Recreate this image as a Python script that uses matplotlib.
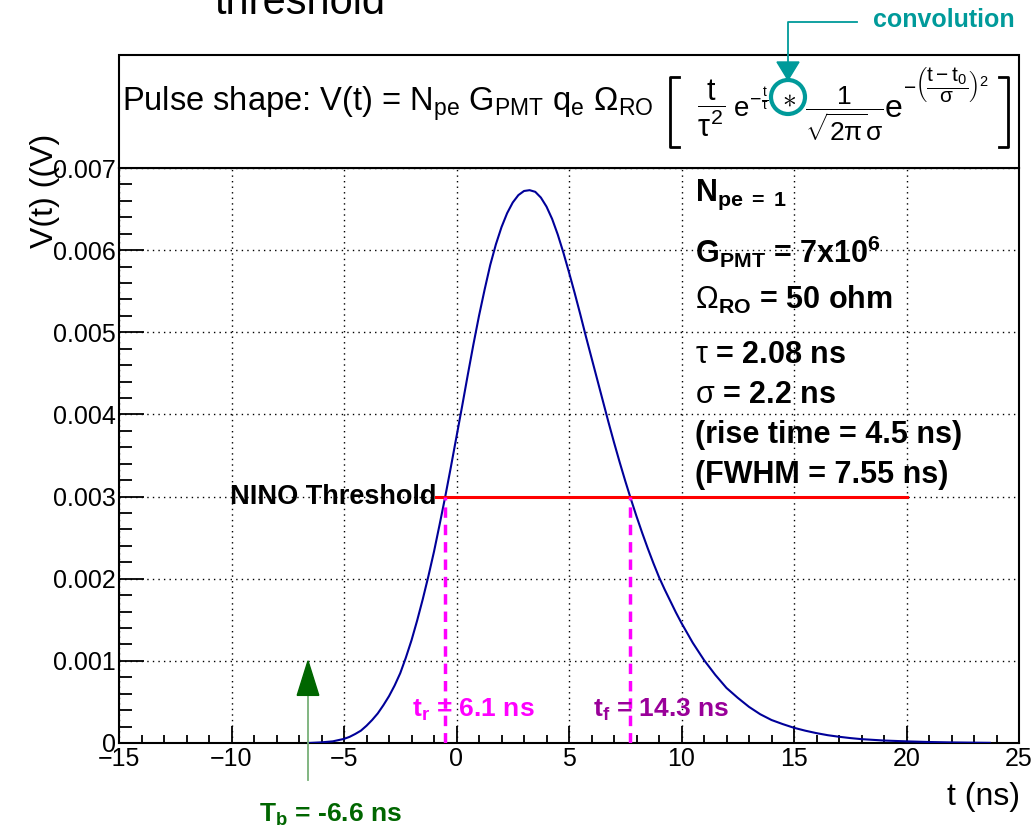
import matplotlib
matplotlib.use("Agg")
import matplotlib.pyplot as plt
from matplotlib.patches import Rectangle, Ellipse, Polygon
from matplotlib.lines import Line2D

plt.rcParams['font.family'] = ['Liberation Sans', 'DejaVu Sans']
plt.rcParams['mathtext.fontset'] = 'custom'
plt.rcParams['mathtext.rm'] = 'Liberation Sans'
plt.rcParams['mathtext.it'] = 'Liberation Sans'
plt.rcParams['mathtext.bf'] = 'Liberation Sans:bold'

# pulse (t in ns, V in mV)
t_ns = [-6.6, -6.0, -5.5, -5.0, -4.75, -4.5, -4.25, -4.0, -3.75, -3.5, -3.25, -3.0,
        -2.75, -2.5, -2.25, -2.0, -1.75, -1.5, -1.25, -1.0, -0.75, -0.5, -0.25,
        0.0, 0.25, 0.5, 0.75, 1.0, 1.25, 1.5, 1.75, 2.0, 2.25, 2.5, 2.75, 3.0,
        3.25, 3.5, 3.75, 4.0, 4.25, 4.5, 4.75, 5.0, 5.25, 5.5, 5.75, 6.0, 6.25,
        6.5, 6.75, 7.0, 7.25, 7.5, 7.75, 8.0, 8.25, 8.5, 8.75, 9.0, 9.25, 9.5,
        9.75, 10.0, 10.5, 11.0, 11.5, 12.0, 12.5, 13.0, 13.5, 14.0, 14.5, 15.0,
        15.5, 16.0, 16.5, 17.0, 17.5, 18.0, 19.0, 20.0, 21.0, 22.0, 23.0, 23.7]
v_mv = [0.0, 0.008, 0.02, 0.05, 0.075, 0.11, 0.15, 0.21, 0.28, 0.36, 0.46, 0.57,
        0.70, 0.85, 1.04, 1.25, 1.49, 1.75, 2.03, 2.33, 2.66, 3.00, 3.36,
        3.73, 4.10, 4.48, 4.85, 5.20, 5.52, 5.82, 6.07, 6.28, 6.45, 6.58, 6.67, 6.72,
        6.73, 6.71, 6.64, 6.53, 6.38, 6.19, 5.97, 5.73, 5.48, 5.22, 4.95, 4.69, 4.43,
        4.17, 3.91, 3.66, 3.42, 3.19, 2.97, 2.76, 2.56, 2.37, 2.19, 2.02, 1.87, 1.73,
        1.59, 1.46, 1.22, 1.01, 0.83, 0.67, 0.55, 0.44, 0.35, 0.28, 0.23, 0.185,
        0.15, 0.12, 0.095, 0.076, 0.06, 0.047, 0.03, 0.02, 0.012, 0.007, 0.004, 0.002]
v_volt = [v / 1000 for v in v_mv]

threshold = 0.003
thr_start, thr_end = -0.9, 20.0
t_rise, t_fall = -0.5, 7.7
t_b = -6.6
xticks = [-15, -10, -5, 0, 5, 10, 15, 20, 25]
yticks = [0, 0.001, 0.002, 0.003, 0.004, 0.005, 0.006, 0.007]
ytick_labels = ['0', '0.001', '0.002', '0.003', '0.004', '0.005', '0.006', '0.007']

W, H = 1034, 831
fig = plt.figure(figsize=(W / 100, H / 100), dpi=100)
ax = fig.add_axes([119 / W, 1 - 743 / H, 900 / W, 575 / H])

def fx(px):
    return px / W

def fy(py):
    return 1 - py / H

ax.plot(t_ns, v_volt, color='#000099', lw=1.5, zorder=3)
ax.plot([thr_start, thr_end], [threshold, threshold], color='#ff0000', lw=2.2, zorder=3)
for tt in (t_rise, t_fall):
    ax.plot([tt, tt], [0, threshold], color='#ff00ff', lw=2.5, ls=(0, (3, 2)), zorder=4)

ax.set_xlim(-15, 25)
ax.set_ylim(0, 0.007)
ax.set_xticks(xticks)
ax.set_yticks(yticks)
ax.set_yticklabels(ytick_labels)
ax.set_xticks(range(-15, 26), minor=True)
ax.set_yticks([i * 0.0002 for i in range(36)], minor=True)
ax.tick_params(axis='both', which='both', direction='in', labelsize=18, width=1.3)
ax.tick_params(axis='x', which='major', length=12, pad=3)
ax.tick_params(axis='x', which='minor', length=6)
ax.tick_params(axis='y', which='major', length=18, pad=2)
ax.tick_params(axis='y', which='minor', length=9.5)
ax.grid(True, which='major', color='black', ls=(0, (1, 3)), lw=1.0)
for s in ax.spines.values():
    s.set_linewidth(1.5)

# labels inside the plot
ax.text(thr_start, threshold, 'NINO Threshold', ha='right', va='center',
        fontsize=19.5, fontweight='bold', zorder=5)
ax.text(-2.0, 0.0004, r'$\mathbf{t_{r}}$ = 6.1 ns', ha='left', va='center',
        fontsize=19, fontweight='bold', color='#ff00ff', zorder=5)
ax.text(6.05, 0.0004, r'$\mathbf{t_{f}}$ = 14.3 ns', ha='left', va='center',
        fontsize=19, fontweight='bold', color='#990099', zorder=5)

# T_b arrow below the axis
ax.plot([t_b, t_b], [-0.00045, 0.0006], color='#77b077', lw=1.3, clip_on=False, zorder=5)
ax.add_patch(Polygon([[t_b - 0.48, 0.00058], [t_b + 0.48, 0.00058], [t_b, 0.001]],
                     closed=True, color='#006600', clip_on=False, zorder=5))
ax.text(-5.6, -0.00088, r'$\mathbf{T_{b}}$ = -6.6 ns', ha='center', va='center',
        fontsize=19, fontweight='bold', color='#006600', clip_on=False)

# parameter block
params = [
    (195, r'$\mathbf{N_{pe\ =\ 1}}$'),
    (252, r'$\mathbf{G_{PMT}}$ = 7x10$^{\mathbf{6}}$'),
    (300, r'$\Omega_{\mathbf{RO}}$ = 50 ohm'),
    (355, r'$\tau$ = 2.08 ns'),
    (395, r'$\sigma$ = 2.2 ns'),
    (435, '(rise time = 4.5 ns)'),
    (475, '(FWHM = 7.55 ns)'),
]
for py, txt in params:
    fig.text(fx(695), fy(py), txt, ha='left', va='center', fontsize=22, fontweight='bold')

# formula box above the axes
fig.add_artist(Rectangle((fx(119), fy(168)), 900 / W, 113 / H, transform=fig.transFigure,
                         facecolor='white', edgecolor='black', lw=1.5))
fig.text(fx(122), fy(111),
         r'Pulse shape: V(t) = N$_{\rm pe}$ G$_{\rm PMT}$ q$_{\rm e}$ $\Omega_{\rm RO}$',
         ha='left', va='baseline', fontsize=23.5)
fig.text(fx(711), fy(108), r'$\dfrac{t}{\tau^{2}}$', ha='center', va='center', fontsize=22)
fig.text(fx(733), fy(117), r'$e^{-\frac{t}{\tau}}$', ha='left', va='baseline', fontsize=20)
fig.text(fx(789), fy(99), r'$\ast$', ha='center', va='center', fontsize=20)
fig.text(fx(844), fy(114), r'$\dfrac{1}{\sqrt{2\pi}\sigma}$', ha='center', va='center', fontsize=19)
fig.text(fx(885), fy(117), 'e', ha='left', va='baseline', fontsize=23)
fig.text(fx(903), fy(84), r'$-\left(\dfrac{t-t_{0}}{\sigma}\right)^{2}$', ha='left',
         va='center', fontsize=15)
for x0, x1 in ((679, 670), (999, 1008)):
    fig.add_artist(Line2D([fx(x0), fx(x1), fx(x1), fx(x0)], [fy(77), fy(77), fy(147), fy(147)],
                          transform=fig.transFigure, color='black', lw=2))

# convolution marker
teal = '#009a9a'
fig.add_artist(Ellipse((fx(788), fy(97)), 34 / W, 34 / H, transform=fig.transFigure,
                       fill=False, edgecolor=teal, lw=3))
fig.add_artist(Line2D([fx(857), fx(788), fx(788)], [fy(22), fy(22), fy(64)],
                      transform=fig.transFigure, color=teal, lw=1.3))
fig.add_artist(Polygon([[fx(777), fy(62)], [fx(799), fy(62)], [fx(788), fy(80)]],
                       closed=True, transform=fig.transFigure, color=teal))
fig.text(fx(1015), fy(20), 'convolution', ha='right', va='center', fontsize=18,
         fontweight='bold', color=teal)

# titles
fig.text(fx(300), fy(14), 'threshold', ha='center', va='baseline', fontsize=30)
fig.text(fx(45), fy(191), 'V(t) ((V)', ha='center', va='center', rotation=90, fontsize=23)
fig.text(fx(1020), fy(797), 't (ns)', ha='right', va='center', fontsize=23)

fig.savefig('out.png', dpi=100)
